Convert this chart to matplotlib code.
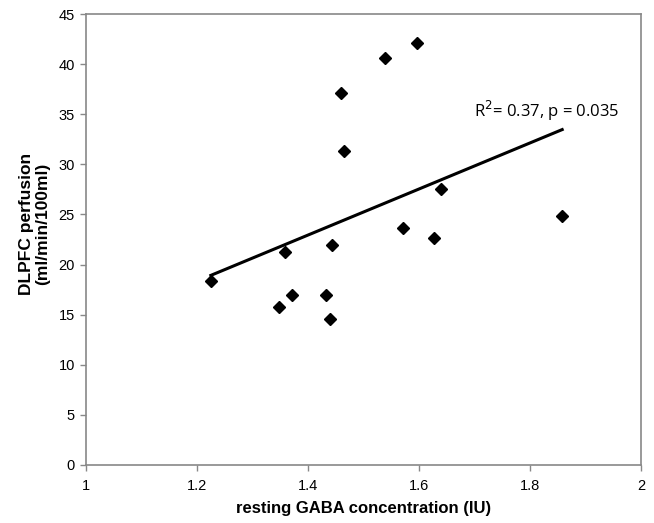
import numpy as np
import matplotlib
matplotlib.use("Agg")
import matplotlib.pyplot as plt

gaba = [1.225, 1.358, 1.347, 1.372, 1.433, 1.439, 1.444, 1.460, 1.464,
        1.539, 1.597, 1.571, 1.627, 1.639, 1.858]
perfusion = [18.4, 21.3, 15.8, 17.0, 17.0, 14.6, 22.0, 37.1, 31.3,
             40.6, 42.1, 23.6, 22.6, 27.5, 24.8]
xticks = [1, 1.2, 1.4, 1.6, 1.8, 2]
xticklabels = ["1", "1.2", "1.4", "1.6", "1.8", "2"]
yticks = [0, 5, 10, 15, 20, 25, 30, 35, 40, 45]
annotation = "R$^2$= 0.37, p = 0.035"

plt.rcParams['font.family'] = ['Liberation Sans', 'DejaVu Sans']

fig = plt.figure(figsize=(6.54, 5.23), dpi=100)
ax = fig.add_axes([86/654, 1 - 465/523, (641-86)/654, (465-14)/523])

x = np.array(gaba)
y = np.array(perfusion)
ax.plot(x, y, linestyle='none', marker='D', markersize=6.5, color='black')

slope, intercept = np.polyfit(x, y, 1)
xl = np.array([x.min(), x.max()])
ax.plot(xl, slope * xl + intercept, color='black', linewidth=2.2)

ax.text(1.83, 34.1, annotation, fontsize=12, family=['Open Sans', 'DejaVu Sans'],
        ha='center', va='bottom')

ax.set_xlim(1, 2)
ax.set_ylim(0, 45)
ax.set_xticks(xticks)
ax.set_xticklabels(xticklabels)
ax.set_yticks(yticks)
for s in ax.spines.values():
    s.set_color('#888888')
    s.set_linewidth(1.2)
ax.tick_params(direction='out', length=4, width=1, color='#888888',
               labelsize=10.5, pad=4)
ax.tick_params(axis='x', pad=6)

ax.set_xlabel("resting GABA concentration (IU)", fontsize=12, fontweight='bold', labelpad=6)
ax.set_ylabel("DLPFC perfusion\n(ml/min/100ml)", fontsize=12.5, fontweight='bold',
              linespacing=1.05)
ax.yaxis.set_label_coords(-0.065, 0.534)

fig.savefig("out.png", dpi=100)
